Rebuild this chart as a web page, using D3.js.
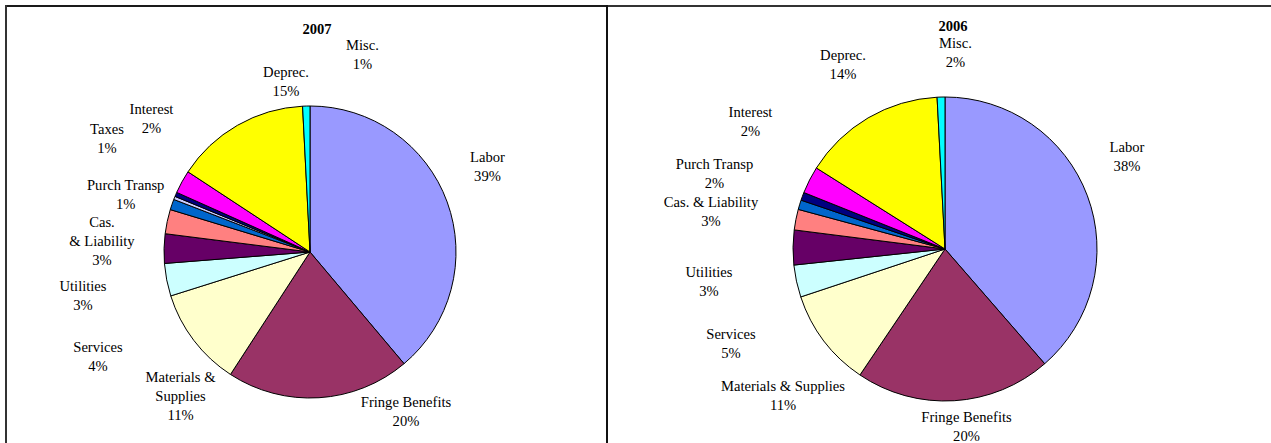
<!DOCTYPE html>
<html>
<head>
<meta charset="utf-8">
<script src="https://cdn.jsdelivr.net/npm/d3@7"></script>
<style>
  html, body { margin: 0; padding: 0; background: #fff; }
  svg { display: block; }
  text { font-family: "Liberation Serif", "Times New Roman", serif; font-size: 14.6px; fill: #000; }
</style>
</head>
<body>
<svg id="chart" width="1271" height="443"></svg>
<script>
// ---- data ----
const categories = ["Labor", "Fringe Benefits", "Materials & Supplies", "Services", "Utilities",
  "Cas. & Liability", "Purch Transp", "Other", "Taxes", "Interest", "Deprec.", "Misc."];
const colors = ["#9999FF", "#993366", "#FFFFCC", "#CCFFFF", "#660066", "#FF8080",
  "#0066CC", "#CCCCFF", "#000080", "#FF00FF", "#FFFF00", "#00FFFF"];
const years = ["2007", "2006"];
// slice sizes (percent of total)
const values2007 = [38.86, 20.31, 10.97, 3.61, 3.25, 2.69, 1.17, 0.36, 0.47, 2.56, 14.94, 0.81];
const values2006 = [38.61, 20.83, 10.44, 3.42, 3.69, 2.19, 1.01, 0, 0.85, 2.89, 15.22, 0.83];
// percentages as printed on the labels (null = no label)
const pctLabels2007 = [39, 20, 11, 4, 3, 3, 1, null, 1, 2, 15, 1];
const pctLabels2006 = [38, 20, 11, 5, 3, 3, 2, null, null, 2, 14, 2];

// ---- layout (positions only) ----
const panels = [
  { year: years[0], values: values2007, pcts: pctLabels2007, cx: 310, cy: 252, r: 146,
    title: [317, 28.5],
    labels: {
      "Labor": { x: 487.5, y: 156.5, lines: ["Labor"] },
      "Fringe Benefits": { x: 406, y: 402.3, lines: ["Fringe Benefits"] },
      "Materials & Supplies": { x: 180.5, y: 377.3, lines: ["Materials &", "Supplies"] },
      "Services": { x: 98, y: 346.7, lines: ["Services"] },
      "Utilities": { x: 83, y: 286, lines: ["Utilities"] },
      "Cas. & Liability": { x: 102, y: 222.3, lines: ["Cas.", "& Liability"] },
      "Purch Transp": { x: 125.7, y: 185.3, lines: ["Purch Transp"] },
      "Taxes": { x: 107, y: 129, lines: ["Taxes"] },
      "Interest": { x: 151.5, y: 109.3, lines: ["Interest"] },
      "Deprec.": { x: 286, y: 72.3, lines: ["Deprec."] },
      "Misc.": { x: 362.4, y: 45, lines: ["Misc."] }
    } },
  { year: years[1], values: values2006, pcts: pctLabels2006, cx: 945, cy: 249, r: 152,
    title: [953, 26],
    labels: {
      "Labor": { x: 1127, y: 146.7, lines: ["Labor"] },
      "Fringe Benefits": { x: 966.5, y: 417.3, lines: ["Fringe Benefits"] },
      "Materials & Supplies": { x: 783, y: 385.7, lines: ["Materials & Supplies"] },
      "Services": { x: 731, y: 334, lines: ["Services"] },
      "Utilities": { x: 709, y: 272.3, lines: ["Utilities"] },
      "Cas. & Liability": { x: 711, y: 202.3, lines: ["Cas. & Liability"] },
      "Purch Transp": { x: 714.5, y: 164.3, lines: ["Purch Transp"] },
      "Interest": { x: 750.5, y: 112.3, lines: ["Interest"] },
      "Deprec.": { x: 843, y: 55, lines: ["Deprec."] },
      "Misc.": { x: 955.5, y: 43.3, lines: ["Misc."] }
    } }
];
const lineH = 19;

const svg = d3.select("#chart");
const color = d3.scaleOrdinal().domain(categories).range(colors);

// frame
const frame = svg.append("g").attr("fill", "none");
frame.append("line").attr("x1", 5).attr("x2", 607).attr("y1", 6).attr("y2", 6)
  .attr("stroke", "#1a1a1a").attr("stroke-width", 2);
frame.append("line").attr("x1", 607).attr("x2", 1271).attr("y1", 6).attr("y2", 6)
  .attr("stroke", "#333").attr("stroke-width", 2);
frame.append("line").attr("x1", 6).attr("x2", 6).attr("y1", 5).attr("y2", 443)
  .attr("stroke", "#333").attr("stroke-width", 2);
frame.append("line").attr("x1", 607).attr("x2", 607).attr("y1", 5).attr("y2", 443)
  .attr("stroke", "#111").attr("stroke-width", 2);

const pie = d3.pie().sort(null).value(d => d.value);

panels.forEach(p => {
  const data = categories.map((c, i) => ({ cat: c, value: p.values[i], pct: p.pcts[i] }));
  const arc = d3.arc().innerRadius(0).outerRadius(p.r);
  const g = svg.append("g").attr("transform", `translate(${p.cx},${p.cy})`);
  g.selectAll("path")
    .data(pie(data).filter(d => d.data.value > 0))
    .join("path")
    .attr("d", arc)
    .attr("fill", d => color(d.data.cat))
    .attr("stroke", "#000")
    .attr("stroke-width", 1)
    .attr("stroke-linejoin", "round");

  svg.append("text")
    .attr("x", p.title[0]).attr("y", p.title[1])
    .attr("text-anchor", "middle").attr("dominant-baseline", "central")
    .attr("font-weight", "bold")
    .text(p.year);

  data.forEach(d => {
    const L = p.labels[d.cat];
    if (!L || d.pct == null) return;
    const lines = L.lines.concat([d.pct + "%"]);
    const t = svg.append("text")
      .attr("text-anchor", "middle").attr("dominant-baseline", "central");
    lines.forEach((s, k) => {
      t.append("tspan").attr("x", L.x).attr("y", L.y + k * lineH).text(s);
    });
  });
});
</script>
</body>
</html>
